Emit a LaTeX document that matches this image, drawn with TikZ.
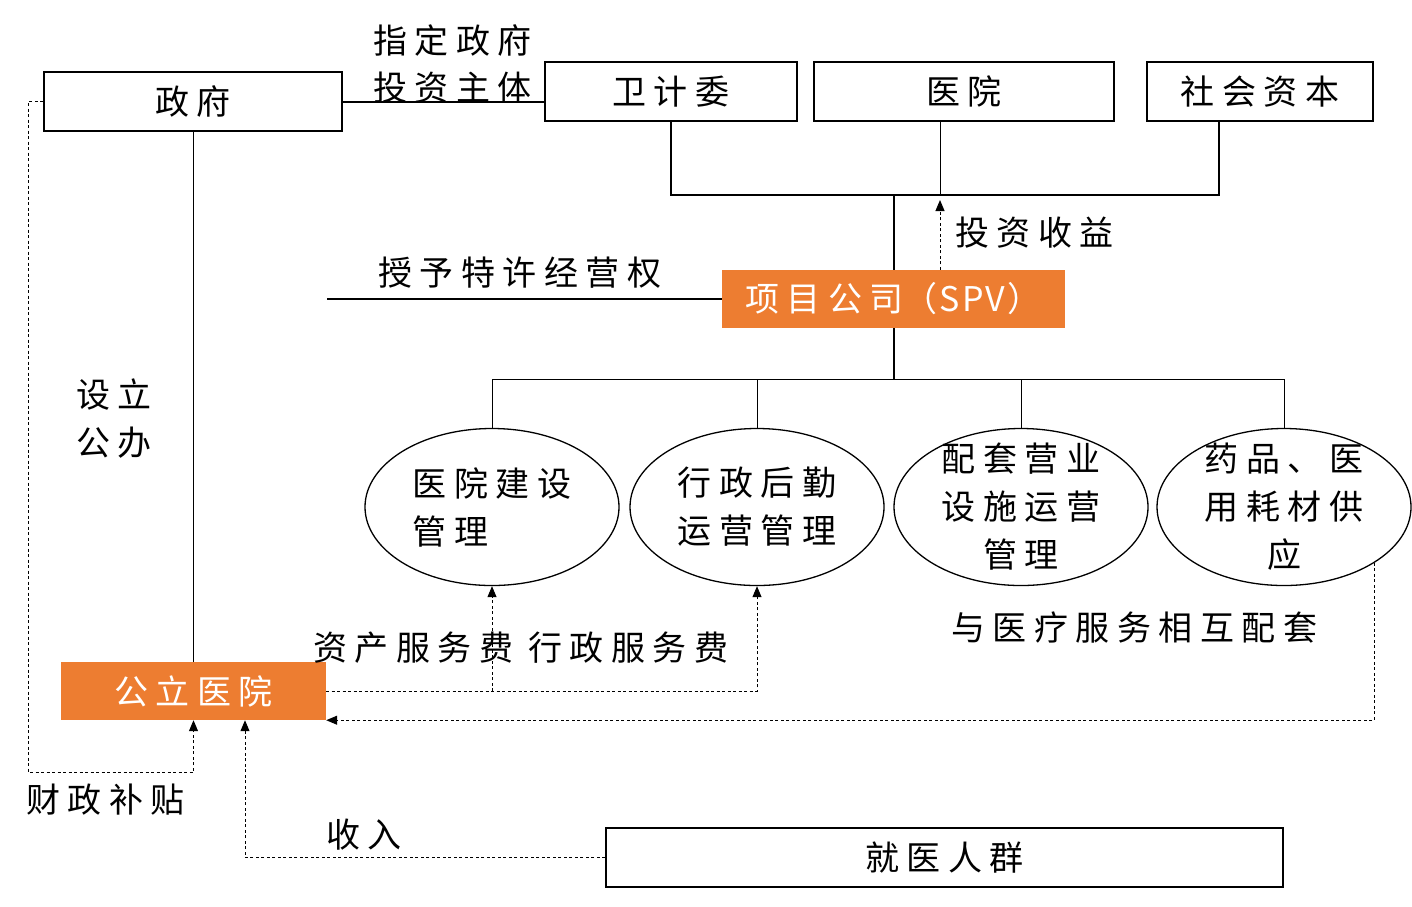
\documentclass[tikz,border=0pt]{standalone}
\usepackage{fontspec}
\newfontfamily\cjk[LetterSpace=22]{Noto Sans CJK SC}
\newfontfamily\cjkn[LetterSpace=6]{Noto Sans CJK SC}
\usetikzlibrary{shapes.geometric,arrows.meta}
\definecolor{orng}{HTML}{ED7D31}
\begin{document}
\begin{tikzpicture}[x=1pt,y=-1pt,
  every node/.style={font=\cjk\fontsize{34}{48}\selectfont},
  box/.style={draw,line width=2pt,inner sep=0,minimum height=59},
  obox/.style={fill=orng,text=white,inner sep=0,minimum height=58},
  oval/.style={ellipse,draw,line width=1.3pt,minimum width=254,minimum height=157,inner sep=0},
  tall/.style={inner ysep=-35pt},
  lbl/.style={inner sep=0,anchor=west},
  thickline/.style={line width=2pt},
  thinline/.style={line width=1pt},
  dline/.style={line width=1pt,dash pattern=on 3pt off 2.5pt},
  darrow/.style={dline,-{Triangle[length=11pt,width=9pt]}}
]
\useasboundingbox (0,0) rectangle (1412,906);
% boxes
\node[box,minimum width=298] (zf) at (193,101.5) {政府};
\node[box,minimum width=252] (wjw) at (671,91.5) {卫计委};
\node[box,minimum width=300] (yy) at (964,91) {医院};
\node[box,minimum width=226] (shzb) at (1260,91.5) {社会资本};
\node[obox,minimum width=343] (spv) at (893.5,299) {项目公司{\cjkn （SPV）}};
\node[obox,minimum width=265] (gl) at (193.5,691) {公立医院};
\node[box,minimum width=677] (jy) at (944.5,857.5) {就医人群};
% ellipses
\node[oval,align=left] (e1) at (492,507) {医院建设\\管理};
\node[oval,align=center] (e2) at (757,507) {行政后勤\\运营管理};
\node[oval,tall,align=center] (e3) at (1021,507) {配套营业\\设施运营\\管理};
\node[oval,tall,align=center] (e4) at (1284,507) {药品、医\\用耗材供\\应};
% labels
\node[lbl] (l1) at (373,40) {指定政府};
\node[lbl] (l2) at (373,88) {投资主体};
\node[lbl] (l3) at (955,233) {投资收益};
\node[lbl] (l4) at (378,273) {授予特许经营权};
\node[lbl] (l5) at (76,395) {设立};
\node[lbl] (l6) at (76,443) {公办};
\node[lbl] (l7) at (313,648) {资产服务费 行政服务费};
\node[lbl] (l8) at (26,800) {财政补贴};
\node[lbl] (l9) at (326,835) {收入};
\node[lbl] (l10) at (951,628) {与医疗服务相互配套};
% coordinates
\coordinate (busL) at (671,195);
\coordinate (busR) at (1219,195);
\coordinate (busM) at (940,195);
\coordinate (retTip) at (940,200);
\coordinate (grantL) at (327,299);
\coordinate (bus2) at (893,379);
\coordinate (subL) at (28,772);
% solid connectors
\draw[thickline] (zf.east) -- (zf.east -| wjw.west);
\draw[thickline] (wjw.south) -- (busL) -- (busR) -- (busR |- shzb.south);
\draw[thinline] (busM |- yy.south) -- (busM);
\draw[thickline] (spv.north) -- (spv.north |- busL);
\draw[line width=1.3pt] (grantL) -- (grantL -| spv.west);
\draw[thickline] (spv.south) -- (spv.south |- bus2);
\draw[thinline] (e1.north) -- (e1.north |- bus2) -- (e4.north |- bus2) -- (e4.north);
\draw[thinline] (e2.north) -- (e2.north |- bus2);
\draw[thinline] (e3.north) -- (e3.north |- bus2);
\draw[thinline] (zf.south) -- (zf.south |- gl.north);
% dashed connectors
\draw[darrow] (spv.north -| retTip) -- (retTip);
\draw[darrow] (gl.east) -| (e2.south);
\draw[darrow] (gl.east -| e1.south) -- (e1.south);
\draw[darrow] (e4.south east) |- (gl.south east);
\draw[darrow] (zf.west) -| (subL) -| (gl.south);
\draw[darrow] (jy.west) -| ([xshift=51.5pt]gl.south);
\end{tikzpicture}
\end{document}
